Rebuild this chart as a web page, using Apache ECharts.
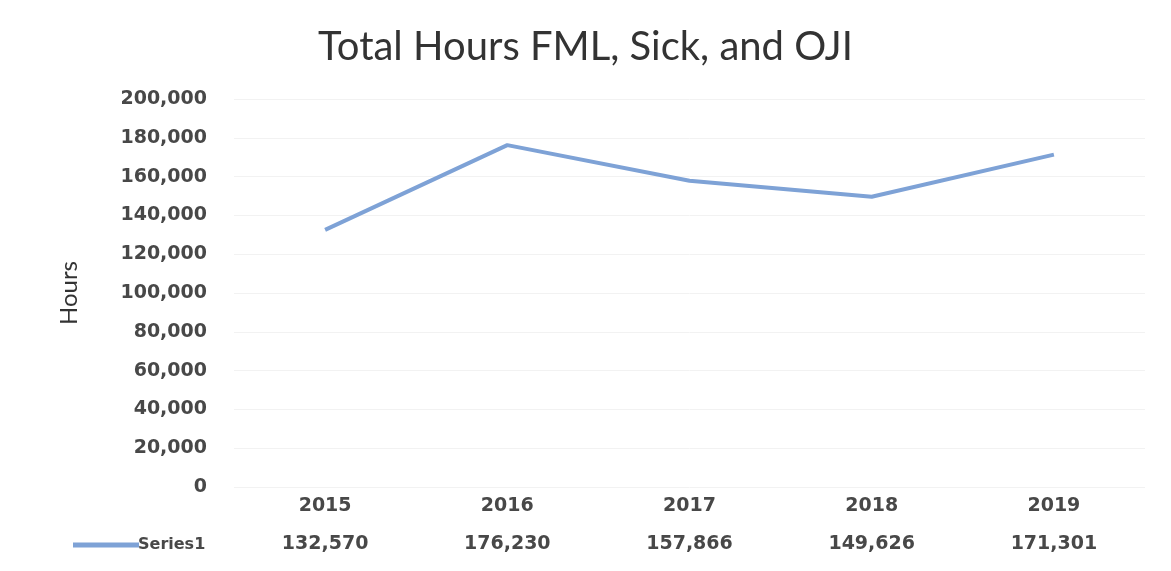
<!DOCTYPE html>
<html>
<head>
<meta charset="utf-8">
<script src="https://cdn.jsdelivr.net/npm/echarts@6/dist/echarts.min.js"></script>
<style>
  html, body { margin: 0; padding: 0; background: #fff; }
  #main { width: 1171px; height: 571px; }
</style>
</head>
<body>
<div id="main"></div>
<script>
const years = ['2015', '2016', '2017', '2018', '2019']
const hours = [132570, 176230, 157866, 149626, 171301]
const seriesName = 'Series1'

const fmt = (v) => v.toLocaleString('en-US')
const labelColor = '#484848'

const chart = echarts.init(document.getElementById('main'))
const option = {
  backgroundColor: '#fff',
  title: {
    text: 'Total Hours FML, Sick, and OJI',
    left: 'center',
    top: 22,
    textStyle: {
      fontFamily: 'Lato',
      fontWeight: 'normal',
      fontSize: 40,
      color: '#333'
    }
  },
  grid: {
    left: 234,
    right: 26,
    top: 99,
    bottom: 84,
    containLabel: false
  },
  legend: {
    left: 68,
    top: 532,
    icon: 'rect',
    itemWidth: 66,
    itemHeight: 5,
    textStyle: {
      fontFamily: 'DejaVu Sans',
      fontWeight: 'bold',
      fontSize: 16,
      color: labelColor,
      padding: [0, 0, 0, -6]
    },
    data: [seriesName]
  },
  xAxis: {
    type: 'category',
    data: years,
    boundaryGap: true,
    axisLine: { show: false },
    axisTick: { show: false },
    axisLabel: {
      margin: 0,
      interval: 0,
      formatter: (val, idx) => '{y|' + val + '}\n{v|' + fmt(hours[idx]) + '}',
      rich: {
        y: {
          fontFamily: 'DejaVu Sans',
          fontWeight: 'bold',
          fontSize: 19,
          color: labelColor,
          height: 38,
          align: 'center'
        },
        v: {
          fontFamily: 'DejaVu Sans',
          fontWeight: 'bold',
          fontSize: 19,
          color: labelColor,
          height: 38,
          align: 'center'
        }
      }
    }
  },
  yAxis: {
    type: 'value',
    min: 0,
    max: 200000,
    interval: 20000,
    name: 'Hours',
    nameLocation: 'middle',
    nameGap: 153,
    nameRotate: 90,
    nameTextStyle: {
      fontFamily: 'Lato',
      fontSize: 24,
      color: '#333'
    },
    axisLine: { show: false },
    axisTick: { show: false },
    axisLabel: {
      margin: 27,
      formatter: (v) => fmt(v),
      fontFamily: 'DejaVu Sans',
      fontWeight: 'bold',
      fontSize: 19,
      color: labelColor
    },
    splitLine: {
      lineStyle: {
        color: '#f2f2f2',
        width: 1
      }
    }
  },
  series: [
    {
      name: seriesName,
      type: 'line',
      data: hours,
      showSymbol: false,
      smooth: false,
      lineStyle: { color: '#7ea2d6', width: 4 },
      itemStyle: { color: '#7ea2d6' }
    }
  ]
}
chart.setOption(option)
</script>
</body>
</html>
